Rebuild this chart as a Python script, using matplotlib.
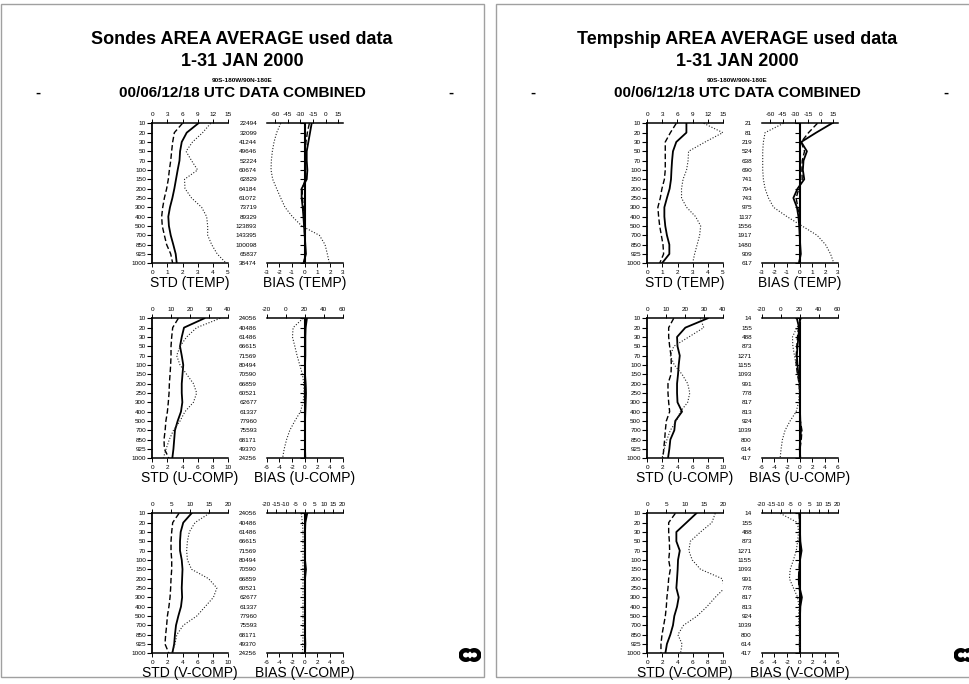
import matplotlib
matplotlib.use("Agg")
import matplotlib.pyplot as plt
from matplotlib.patches import Rectangle, Arc
from matplotlib.lines import TICKLEFT

plt.rcParams['font.family'] = ['Liberation Sans', 'DejaVu Sans']
plt.rcParams['axes.unicode_minus'] = False

# ---------------- data ----------------
levels = [10, 20, 30, 50, 70, 100, 150, 200, 250, 300, 400, 500, 700, 850, 925, 1000]
page_titles = ["Sondes AREA AVERAGE used data", "Tempship AREA AVERAGE used data"]
period = "1-31 JAN 2000"
area = "90S-180W/90N-180E"
subtitle = "00/06/12/18 UTC DATA COMBINED"
row_names = ["TEMP", "U-COMP", "V-COMP"]

# Sondes -- TEMP
sondes_temp_counts = [22494, 32099, 41244, 49646, 52224, 60674, 62829, 64184, 61072, 73719,
                      89329, 123893, 143395, 100098, 65837, 38474]
sondes_temp_std_solid = [3.05, 2.28, 1.95, 1.84, 1.80, 1.68, 1.57, 1.46, 1.33, 1.17, 1.06, 1.10, 1.22, 1.39, 1.55, 1.62]
sondes_temp_std_dashed = [2.0, 1.46, 1.35, 1.28, 1.22, 1.13, 1.06, 0.95, 0.80, 0.69, 0.62, 0.66, 0.80, 0.95, 1.22, 1.35]
sondes_temp_std_dotted = [11.6, 10.0, 8.0, 6.7, 7.8, 9.0, 6.4, 6.5, 7.8, 9.8, 10.8, 11.0, 11.0, 11.8, 12.9, 14.7]
sondes_temp_bias_solid = [0.55, 0.42, 0.29, 0.16, 0.16, 0.21, 0.16, -0.24, -0.24, -0.16, -0.10, -0.05, 0.0, 0.05, 0.10, -0.10]
sondes_temp_bias_dashed = [0.37, 0.21, 0.10, 0.05, 0.05, 0.08, 0.05, -0.20, -0.18, -0.10, -0.05, -0.03, 0.0, 0.03, 0.05, -0.05]
sondes_temp_bias_dotted = [-53.4, -58.2, -61.3, -63.3, -64.5, -64.9, -62.9, -58.2, -53.4, -48.3, -39.6, -28.5, -7.6, -0.9, 1.8, 4.2]

# Sondes -- U
sondes_u_counts = [24056, 40486, 61486, 66615, 71569, 80494, 70590, 66859, 60521, 62677,
                   61337, 77960, 75593, 68171, 49370, 24256]
sondes_u_std_solid = [6.9, 4.2, 3.9, 3.67, 3.9, 4.1, 4.0, 3.9, 3.9, 3.98, 3.8, 3.36, 3.0, 2.9, 2.8, 2.65]
sondes_u_std_dashed = [3.45, 2.7, 2.57, 2.48, 2.48, 2.43, 2.35, 2.26, 2.22, 2.12, 2.0, 1.8, 1.7, 1.55, 1.6, 2.2]
sondes_u_std_dotted = [36.0, 23.5, 18.2, 14.7, 12.9, 14.7, 18.2, 21.8, 23.5, 21.8, 17.3, 14.7, 11.2, 9.0, 7.3, 5.8]
sondes_u_bias_solid = [0.35, 0.15, 0.1, 0.1, 0.1, 0.05, 0.05, 0.15, 0.2, 0.15, 0.1, 0.05, 0.05, 0.05, 0.05, 0.1]
sondes_u_bias_dashed = [0.2, 0.1, 0.05, 0.05, 0.05, 0.02, 0.02, 0.1, 0.12, 0.1, 0.05, 0.02, 0.02, 0.02, 0.02, 0.05]
sondes_u_bias_dotted = [18.3, 7.8, 7.1, 9.6, 12.0, 14.8, 17.6, 19.0, 19.3, 18.3, 15.5, 9.6, 4.3, 0.9, -1.6, -3.3]

# Sondes -- V
sondes_v_counts = sondes_u_counts
sondes_v_std_solid = [5.2, 4.1, 3.76, 3.67, 3.67, 3.9, 4.0, 3.95, 3.9, 3.95, 3.8, 3.45, 3.14, 3.0, 2.9, 2.65]
sondes_v_std_dashed = [3.54, 2.7, 2.57, 2.48, 2.48, 2.57, 2.57, 2.48, 2.43, 2.35, 2.2, 2.0, 1.9, 1.77, 1.68, 2.2]
sondes_v_std_dotted = [15.1, 11.3, 9.8, 9.3, 9.1, 9.3, 10.4, 14.9, 17.1, 16.2, 14.0, 11.8, 8.2, 6.5, 6.0, 5.1]
sondes_v_bias_solid = [0.4, 0.1, 0.05, 0.05, 0.05, 0.05, 0.2, 0.05, 0.05, 0.05, 0.05, 0.05, 0.05, 0.05, 0.1, 0.05]
sondes_v_bias_dashed = [0.2, 0.05, 0.02, 0.02, 0.02, 0.02, 0.1, 0.02, 0.02, 0.02, 0.02, 0.02, 0.02, 0.02, 0.05, 0.02]
sondes_v_bias_dotted = [-1.8, -1.2, -0.9, -0.9, -0.9, -0.9, -0.9, -0.9, -0.9, -0.9, -0.9, -0.9, -0.9, -0.9, -1.0, -1.2]

# Tempship -- TEMP
ship_temp_counts = [21, 81, 219, 524, 638, 690, 741, 794, 743, 975, 1137, 1556, 1917, 1480, 909, 617]
ship_temp_std_solid = [2.59, 2.59, 1.92, 1.70, 1.64, 1.60, 1.57, 1.48, 1.30, 1.13, 1.13, 1.19, 1.30, 1.46, 1.46, 0.97]
ship_temp_std_dashed = [1.92, 1.53, 1.19, 1.19, 1.19, 1.19, 1.13, 0.97, 0.86, 0.70, 0.75, 0.82, 0.93, 1.04, 1.08, 0.82]
ship_temp_std_dotted = [11.2, 15.0, 11.5, 8.2, 8.1, 7.8, 7.1, 6.8, 6.8, 7.8, 9.6, 10.6, 10.4, 9.9, 9.4, 9.0]
ship_temp_bias_solid = [2.55, 1.3, 0.12, 0.57, 0.3, 0.25, 0.36, -0.17, -0.5, -0.22, -0.1, -0.04, 0.0, 0.04, 0.09, -0.06]
ship_temp_bias_dashed = [1.4, 0.7, 0.12, 0.38, 0.2, 0.17, 0.2, -0.07, -0.28, -0.15, -0.04, -0.01, 0.0, 0.01, 0.04, -0.03]
ship_temp_bias_dotted = [-44.2, -66.0, -68.0, -68.8, -68.8, -68.8, -68.0, -66.0, -62.0, -56.0, -40.0, -22.2, -4.4, 5.6, 11.5, 15.5]

# Tempship -- U
ship_u_counts = [14, 155, 488, 873, 1271, 1155, 1093, 991, 778, 817, 813, 924, 1039, 800, 614, 417]
ship_u_std_solid = [8.0, 5.04, 3.94, 4.0, 4.3, 4.16, 4.07, 3.94, 3.94, 4.0, 4.6, 3.7, 3.58, 3.05, 2.92, 2.74]
ship_u_std_dashed = [3.5, 2.83, 2.83, 2.96, 3.14, 3.18, 3.14, 2.74, 2.74, 2.83, 2.96, 2.52, 2.39, 2.3, 2.17, 2.08]
ship_u_std_dotted = [28.1, 29.9, 22.0, 14.0, 12.2, 14.3, 18.4, 21.4, 22.5, 21.4, 17.5, 15.4, 12.2, 10.4, 9.0, 7.8]
ship_u_bias_solid = [-0.45, -0.1, -0.2, -0.35, -0.45, -0.35, -0.2, 0.0, 0.05, 0.05, 0.05, 0.1, 0.2, 0.1, 0.0, 0.1]
ship_u_bias_dashed = [0.1, -0.2, -0.35, -0.45, -0.55, -0.55, -0.35, -0.1, 0.0, 0.0, 0.0, 0.1, 0.35, 0.25, 0.05, 0.05]
ship_u_bias_dotted = [22.3, 17.0, 12.4, 12.8, 14.5, 16.3, 18.1, 19.5, 19.5, 18.8, 16.3, 9.9, 4.6, 1.8, 0.4, -0.6]

# Tempship -- V
ship_v_counts = ship_u_counts
ship_v_std_solid = [6.5, 5.18, 3.85, 3.85, 4.3, 4.07, 4.02, 3.94, 3.85, 4.16, 3.94, 3.58, 3.4, 3.05, 2.6, 2.39]
ship_v_std_dashed = [3.72, 2.83, 2.83, 2.92, 2.96, 2.83, 3.05, 2.83, 2.74, 2.6, 2.52, 2.39, 2.17, 1.95, 1.81, 1.81]
ship_v_std_dotted = [18.0, 17.1, 14.1, 11.4, 11.0, 11.9, 14.1, 19.8, 20.5, 18.0, 15.8, 13.2, 9.6, 8.1, 9.2, 8.8]
ship_v_bias_solid = [0.0, 0.0, 0.05, 0.1, 0.3, 0.05, 0.0, -0.15, 0.0, 0.35, 0.1, 0.05, 0.0, 0.05, 0.0, 0.05]
ship_v_bias_dashed = [-0.1, 0.0, 0.0, -0.05, 0.2, 0.0, -0.1, -0.2, -0.1, 0.2, 0.0, 0.0, 0.0, 0.0, 0.0, 0.0]
ship_v_bias_dotted = [-10.3, -1.1, -0.6, -1.1, -1.8, -3.3, -5.0, -5.4, -3.3, -1.1, -0.4, -0.6, -0.4, -0.2, 0.0, 0.0]

# axis scales: (bottom limits, bottom ticks, top limits, top ticks)
std_scales = {
    "TEMP": ((0, 5), [0, 1, 2, 3, 4, 5], (0, 15), [0, 3, 6, 9, 12, 15]),
    "U-COMP": ((0, 10), [0, 2, 4, 6, 8, 10], (0, 40), [0, 10, 20, 30, 40]),
    "V-COMP": ((0, 10), [0, 2, 4, 6, 8, 10], (0, 20), [0, 5, 10, 15, 20]),
}
bias_scales = {
    "TEMP": ((-3, 3), [-3, -2, -1, 0, 1, 2, 3], (-70, 20), [-60, -45, -30, -15, 0, 15]),
    "U-COMP": ((-6, 6), [-6, -4, -2, 0, 2, 4, 6], (-20, 60), [-20, 0, 20, 40, 60]),
    "V-COMP": ((-6, 6), [-6, -4, -2, 0, 2, 4, 6], (-20, 20), [-20, -15, -10, -5, 0, 5, 10, 15, 20]),
}

pages = [
    {
        "TEMP": (sondes_temp_counts, sondes_temp_std_solid, sondes_temp_std_dashed, sondes_temp_std_dotted,
                 sondes_temp_bias_solid, sondes_temp_bias_dashed, sondes_temp_bias_dotted),
        "U-COMP": (sondes_u_counts, sondes_u_std_solid, sondes_u_std_dashed, sondes_u_std_dotted,
                   sondes_u_bias_solid, sondes_u_bias_dashed, sondes_u_bias_dotted),
        "V-COMP": (sondes_v_counts, sondes_v_std_solid, sondes_v_std_dashed, sondes_v_std_dotted,
                   sondes_v_bias_solid, sondes_v_bias_dashed, sondes_v_bias_dotted),
    },
    {
        "TEMP": (ship_temp_counts, ship_temp_std_solid, ship_temp_std_dashed, ship_temp_std_dotted,
                 ship_temp_bias_solid, ship_temp_bias_dashed, ship_temp_bias_dotted),
        "U-COMP": (ship_u_counts, ship_u_std_solid, ship_u_std_dashed, ship_u_std_dotted,
                   ship_u_bias_solid, ship_u_bias_dashed, ship_u_bias_dotted),
        "V-COMP": (ship_v_counts, ship_v_std_solid, ship_v_std_dashed, ship_v_std_dotted,
                   ship_v_bias_solid, ship_v_bias_dashed, ship_v_bias_dotted),
    },
]

# ---------------- layout ----------------
W, H = 969, 684
fig = plt.figure(figsize=(W / 100, H / 100), dpi=100)


def add_ax(x, y, w, h, **kw):
    return fig.add_axes([x / W, 1 - (y + h) / H, w / W, h / H], **kw)


def fx(x):
    return x / W


def fy(y):
    return 1 - y / H


ypos = list(range(len(levels)))
SOLID = dict(color="black", lw=1.3, ls="-")
DASHED = dict(color="black", lw=1.0, ls=(0, (4, 2)))
DOTTED = dict(color="#222222", lw=0.8, ls=(0, (1, 1.6)))
TFS = 4.6


def style_common(ax):
    ax.set_ylim(len(levels) - 1, 0)
    ax.set_facecolor("none")
    ax.tick_params(axis="x", direction="out", length=3, width=0.7, labelsize=TFS, pad=1.5)


def draw_logo(cx, cy):
    lax = add_ax(cx - 11, cy - 7, 22, 14)
    lax.set_xlim(-1.1, 1.1)
    lax.set_ylim(-0.7, 0.7)
    lax.axis("off")
    lax.add_patch(Arc((-0.42, 0), 1.0, 0.95, theta1=40, theta2=320, lw=3.2, color="black"))
    lax.add_patch(Arc((0.42, 0), 1.0, 0.95, theta1=-140, theta2=140, lw=3.2, color="black"))


for p, page in enumerate(pages):
    dx = 495 * p
    # page frame
    fig.patches.append(Rectangle((fx(1 + dx), fy(677)), fx(483), 673 / H, transform=fig.transFigure,
                                 fill=False, edgecolor="#a0a0a0", lw=1.0))
    cxp = 242 + dx
    fig.text(fx(cxp), fy(40), page_titles[p], ha="center", va="center", fontsize=13, fontweight="bold")
    fig.text(fx(cxp), fy(62), period, ha="center", va="center", fontsize=13, fontweight="bold")
    fig.text(fx(cxp), fy(80.5), area, ha="center", va="center", fontsize=4.6, fontweight="bold")
    fig.text(fx(cxp), fy(93), subtitle, ha="center", va="center", fontsize=11, fontweight="bold")
    fig.text(fx(38 + dx), fy(93), "-", ha="center", va="center", fontsize=11, fontweight="bold")
    fig.text(fx(451 + dx), fy(93), "-", ha="center", va="center", fontsize=11, fontweight="bold")

    for r, name in enumerate(row_names):
        counts, s_sol, s_das, s_dot, b_sol, b_das, b_dot = page[name]
        top = 123.3 + 195 * r
        hgt = 140

        # ---- STD panel ----
        (bl, bt, tl, tt) = std_scales[name]
        ax = add_ax(152.3 + dx, top, 75.5, hgt)
        style_common(ax)
        ax.set_xlim(*bl)
        ax.set_xticks(bt)
        ax.set_yticks(ypos)
        ax.set_yticklabels([str(v) for v in levels])
        ax.tick_params(axis="y", direction="out", length=3.5, width=0.8, labelsize=TFS, pad=1)
        for s in ("top", "right"):
            ax.spines[s].set_visible(False)
        ax.spines["left"].set_linewidth(1.3)
        ax.spines["bottom"].set_linewidth(1.1)
        ax.plot(s_sol, ypos, **SOLID)
        ax.plot(s_das, ypos, **DASHED)
        tw = ax.twiny()
        tw.set_xlim(*tl)
        tw.set_xticks(tt)
        tw.tick_params(axis="x", direction="out", length=3, width=0.7, labelsize=TFS, pad=1.5)
        for s in ("left", "right", "bottom"):
            tw.spines[s].set_visible(False)
        tw.spines["top"].set_linewidth(1.1)
        tw.plot(s_dot, ypos, clip_on=True, **DOTTED)
        fig.text(fx(190 + dx), fy(283 + 195 * r), "STD (%s)" % name, ha="center", va="center", fontsize=10)

        # ---- BIAS panel ----
        (bl, bt, tl, tt) = bias_scales[name]
        bx = add_ax(266.7 + dx, top, 76, hgt)
        style_common(bx)
        bx.set_xlim(*bl)
        bx.set_xticks(bt)
        bx.set_yticks(ypos)
        bx.set_yticklabels([str(c) for c in counts])
        bx.tick_params(axis="y", length=0, labelsize=TFS, pad=7)
        for s in ("top", "right", "left"):
            bx.spines[s].set_visible(False)
        bx.spines["bottom"].set_linewidth(1.1)
        bx.axvline(0, color="black", lw=1.5)
        bx.plot([0] * len(ypos), ypos, ls="none", marker=TICKLEFT, ms=3.5, mew=0.8, color="black")
        bx.plot(b_sol, ypos, **SOLID)
        bx.plot(b_das, ypos, **DASHED)
        bt2 = bx.twiny()
        bt2.set_xlim(*tl)
        bt2.set_xticks(tt)
        bt2.tick_params(axis="x", direction="out", length=3, width=0.7, labelsize=TFS, pad=1.5)
        for s in ("left", "right", "bottom"):
            bt2.spines[s].set_visible(False)
        bt2.spines["top"].set_linewidth(1.1)
        bt2.plot(b_dot, ypos, **DOTTED)
        fig.text(fx(305 + dx), fy(283 + 195 * r), "BIAS (%s)" % name, ha="center", va="center", fontsize=10)

    draw_logo(470 + dx, 655)

fig.savefig("out.png", dpi=100)
